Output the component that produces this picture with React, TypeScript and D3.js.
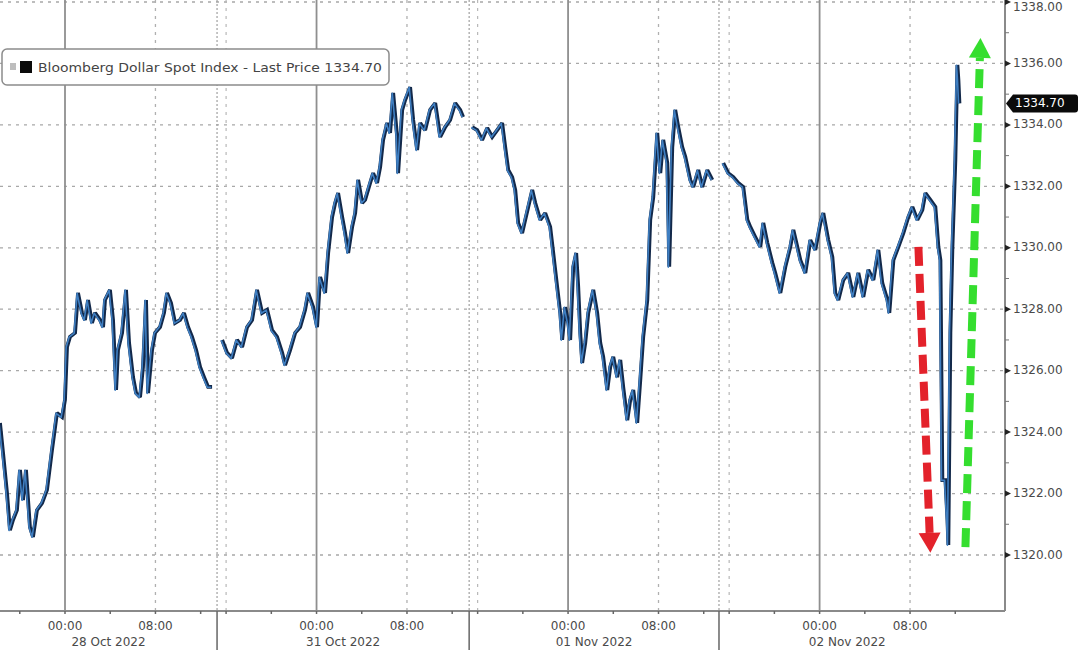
import React from 'react';
import * as d3 from 'd3';

// ---- data (compressed trading-time hours, price) ----
const session1: [number, number][] = [
  [0.0, 1324.3], [0.27, 1323.32], [0.62, 1322.02], [0.88, 1320.81], [1.15, 1321.14], [1.5, 1321.46],
  [1.77, 1322.77], [2.04, 1321.79], [2.3, 1322.77], [2.65, 1320.91], [2.92, 1320.59], [3.27, 1321.46],
  [3.72, 1321.69], [4.16, 1322.12], [4.6, 1323.42], [5.04, 1324.62], [5.49, 1324.49], [5.75, 1325.05],
  [5.93, 1326.77], [6.19, 1327.1], [6.64, 1327.23], [6.9, 1328.53], [7.26, 1327.88], [7.52, 1327.65],
  [7.79, 1328.3], [8.14, 1327.55], [8.41, 1327.88], [8.85, 1327.65], [9.12, 1327.42], [9.29, 1328.3],
  [9.73, 1328.63], [10.0, 1327.65], [10.27, 1325.37], [10.44, 1326.67], [10.8, 1327.23], [11.15, 1328.63],
  [11.42, 1326.9], [11.77, 1325.79], [12.04, 1325.27], [12.39, 1325.14], [12.65, 1326.12], [12.92, 1328.3],
  [13.1, 1325.27], [13.45, 1326.67], [13.72, 1327.23], [14.16, 1327.42], [14.51, 1327.88], [14.78, 1328.53],
  [15.13, 1328.2], [15.49, 1327.55], [15.93, 1327.65], [16.28, 1327.88], [16.64, 1327.42], [16.99, 1327.1],
  [17.35, 1326.67], [17.7, 1326.12], [18.05, 1325.79], [18.41, 1325.47], [18.76, 1325.47],
];
const session2: [number, number][] = [
  [19.65, 1327.0], [20.09, 1326.58], [20.53, 1326.41], [20.97, 1327.0], [21.42, 1326.77], [21.86, 1327.42],
  [22.3, 1327.65], [22.74, 1328.63], [23.19, 1327.88], [23.63, 1327.98], [24.07, 1327.32], [24.51, 1327.1],
  [24.96, 1326.58], [25.22, 1326.18], [25.66, 1326.67], [26.11, 1327.23], [26.55, 1327.42], [26.99, 1327.98],
  [27.26, 1328.53], [27.7, 1328.07], [28.05, 1327.42], [28.32, 1329.05], [28.76, 1328.53], [29.03, 1329.83],
  [29.38, 1331.0], [29.65, 1331.46], [29.91, 1331.78], [30.27, 1331.0], [30.53, 1330.48], [30.8, 1329.83],
  [31.15, 1330.68], [31.42, 1331.13], [31.68, 1332.21], [32.04, 1331.46], [32.3, 1331.56], [32.74, 1332.11],
  [33.01, 1332.43], [33.36, 1332.11], [33.63, 1332.63], [33.89, 1333.51], [34.25, 1334.06], [34.51, 1333.74],
  [34.78, 1335.04], [35.13, 1333.61], [35.22, 1332.43], [35.58, 1334.49], [35.84, 1334.81], [36.28, 1335.23],
  [36.55, 1334.16], [36.9, 1333.18], [37.17, 1334.06], [37.61, 1333.83], [38.05, 1334.49], [38.5, 1334.71],
  [38.94, 1333.61], [39.38, 1333.93], [39.82, 1334.16], [40.27, 1334.71], [40.71, 1334.49], [40.97, 1334.26],
];
const session3: [number, number][] = [
  [41.77, 1333.93], [42.21, 1333.83], [42.65, 1333.51], [43.1, 1333.9], [43.54, 1333.61], [43.98, 1333.83],
  [44.42, 1334.06], [44.69, 1333.28], [44.96, 1332.53], [45.31, 1332.3], [45.58, 1331.88], [45.84, 1330.81],
  [46.19, 1330.48], [46.46, 1330.91], [46.73, 1331.33], [47.08, 1331.88], [47.35, 1331.46], [47.79, 1330.91],
  [48.23, 1331.13], [48.67, 1330.68], [48.94, 1329.83], [49.29, 1328.72], [49.56, 1327.88], [49.73, 1327.0],
  [50.0, 1328.07], [50.27, 1327.55], [50.44, 1327.0], [50.71, 1329.38], [50.97, 1329.83], [51.15, 1328.72],
  [51.33, 1327.23], [51.5, 1326.25], [51.77, 1326.9], [52.04, 1327.88], [52.48, 1328.63], [52.83, 1327.88],
  [53.1, 1326.9], [53.36, 1326.45], [53.72, 1325.37], [53.98, 1326.12], [54.25, 1326.45], [54.6, 1325.79],
  [54.87, 1326.35], [55.13, 1325.47], [55.49, 1324.39], [55.75, 1325.05], [56.02, 1325.37], [56.37, 1324.3],
  [56.64, 1325.7], [56.9, 1327.1], [57.26, 1328.3], [57.52, 1330.91], [57.79, 1331.65], [58.14, 1333.74],
  [58.41, 1332.43], [58.67, 1333.51], [59.03, 1332.76], [59.2, 1329.38], [59.47, 1333.28], [59.73, 1334.49],
  [60.0, 1333.93], [60.35, 1333.28], [60.62, 1332.96], [61.06, 1332.21], [61.33, 1331.98], [61.77, 1332.53],
  [62.12, 1331.98], [62.57, 1332.53], [63.01, 1332.21],
];
const session4: [number, number][] = [
  [63.98, 1332.76], [64.42, 1332.43], [64.87, 1332.3], [65.31, 1332.11], [65.75, 1331.98], [66.11, 1330.91],
  [66.37, 1330.68], [66.81, 1330.35], [67.26, 1330.03], [67.52, 1330.81], [67.88, 1330.16], [68.32, 1329.51],
  [68.58, 1329.18], [69.03, 1328.53], [69.47, 1329.38], [69.91, 1330.03], [70.18, 1330.58], [70.53, 1330.03],
  [70.8, 1329.6], [71.24, 1329.18], [71.68, 1330.25], [72.12, 1329.93], [72.57, 1330.81], [72.83, 1331.13],
  [73.27, 1330.25], [73.63, 1329.7], [73.89, 1328.53], [74.16, 1328.3], [74.6, 1328.95], [75.04, 1329.18],
  [75.49, 1328.4], [75.93, 1329.18], [76.37, 1328.4], [76.81, 1329.28], [77.26, 1328.95], [77.7, 1329.93],
  [78.05, 1328.85], [78.5, 1328.3], [78.67, 1327.88], [79.03, 1329.6], [79.47, 1330.03], [79.91, 1330.48],
  [80.35, 1331.0], [80.71, 1331.33], [81.15, 1330.91], [81.59, 1331.23], [81.86, 1331.78], [82.3, 1331.56],
  [82.74, 1331.33], [83.01, 1330.03], [83.19, 1329.6], [83.36, 1322.44], [83.63, 1322.44], [83.81, 1321.14],
  [83.89, 1320.33], [84.07, 1327.23], [84.25, 1330.03], [84.51, 1332.86], [84.69, 1335.95], [84.78, 1335.46],
  [84.87, 1334.7],
];
const sessions = [session1, session2, session3, session4];

const sessionBounds: [number, number][] = [[0, 19.2], [19.2, 41.5], [41.5, 63.6], [63.6, 86.3]];
const midnights = [5.75, 28.0, 50.25, 72.5];
const dayLabels = ['28 Oct 2022', '31 Oct 2022', '01 Nov 2022', '02 Nov 2022'];
const hourOffsets = [0, 8];
const hourLabels = ['00:00', '08:00'];
const yTicks = [1320, 1322, 1324, 1326, 1328, 1330, 1332, 1334, 1336, 1338];
const yMinorTicks = [1321, 1323, 1325, 1327, 1329, 1331, 1333, 1335, 1337];
const lastPrice = 1334.7;
const legendText = 'Bloomberg Dollar Spot Index - Last Price 1334.70';

// annotation arrows (start, end) in data units
const redArrow: [number, number][] = [[81.24, 1330.03], [82.3, 1320.07]];
const greenArrow: [number, number][] = [[85.4, 1320.26], [86.73, 1336.83]];

const W = 1080;
const H = 650;
const FONT = 'DejaVu Sans, Verdana, sans-serif';

export default function App() {
  const x = d3.scaleLinear().domain([0, 88.9]).range([0, 1005]);
  const y = d3.scaleLinear().domain([1320, 1338]).range([555, 2]);
  const axisX = x(88.9);
  const axisY = 611;

  const line = d3.line<[number, number]>().x((d) => x(d[0])).y((d) => y(d[1]));

  const minorX: number[] = [];
  sessionBounds.forEach(([s, e], i) => {
    for (let k = -3; k <= 4; k++) {
      const h = midnights[i] + k * 4;
      if (h > s + 0.1 && h < Math.min(e, 88.9) - 0.1) minorX.push(h);
    }
  });

  const arrow = (pts: [number, number][], color: string, key: string) => {
    const [p0, p1] = pts;
    const x0 = x(p0[0]), y0 = y(p0[1]), x1 = x(p1[0]), y1 = y(p1[1]);
    const dx = x1 - x0, dy = y1 - y0;
    const len = Math.hypot(dx, dy);
    const ux = dx / len, uy = dy / len;
    const headL = 20, headW = 11;
    const bx = x1 - ux * headL, by = y1 - uy * headL;
    const px = -uy, py = ux;
    const head = `${x1},${y1} ${bx + px * headW},${by + py * headW} ${bx - px * headW},${by - py * headW}`;
    return (
      <g key={key}>
        <line x1={x0} y1={y0} x2={bx} y2={by} stroke={color} strokeWidth={8} strokeDasharray="19,8" />
        <polygon points={head} fill={color} />
      </g>
    );
  };

  return (
    <svg width={W} height={H} style={{ position: 'absolute', left: 0, top: 0, background: '#fff' }} fontFamily={FONT}>
      <rect x={0} y={0} width={W} height={H} fill="#ffffff" />
      {/* horizontal dotted grid */}
      {yTicks.map((v) => (
        <line key={`hg${v}`} x1={0} x2={axisX} y1={y(v)} y2={y(v)} stroke="#a8a8a8" strokeWidth={1.3} strokeDasharray="3,5" />
      ))}
      {/* vertical grid */}
      {midnights.map((m, i) => (
        <g key={`vg${i}`}>
          <line x1={x(m)} x2={x(m)} y1={0} y2={axisY} stroke="#8f8f8f" strokeWidth={1.8} />
          <line x1={x(m + 8)} x2={x(m + 8)} y1={0} y2={axisY} stroke="#b0b0b0" strokeWidth={1.3} strokeDasharray="3,5" />
          {i > 0 && (
            <line x1={x(m - 8)} x2={x(m - 8)} y1={0} y2={axisY} stroke="#b8b8b8" strokeWidth={1.2} strokeDasharray="3,5" />
          )}
        </g>
      ))}
      {sessionBounds.slice(1).map(([s], i) => (
        <line key={`sb${i}`} x1={x(s)} x2={x(s)} y1={0} y2={axisY} stroke="#a0a0a0" strokeWidth={1.2} strokeDasharray="2,2" />
      ))}

      {/* price line */}
      {sessions.map((s, i) => (
        <g key={`s${i}`}>
          <path d={line(s) || ''} fill="none" stroke="#13294a" strokeWidth={3.8} strokeLinejoin="miter" strokeMiterlimit={2} />
          <path d={line(s) || ''} fill="none" stroke="#3f7fc2" strokeWidth={1.6} strokeLinejoin="round" transform="translate(-0.9,0.3)" />
        </g>
      ))}

      {/* arrows */}
      {arrow(redArrow, '#e3222b', 'red')}
      {arrow(greenArrow, '#35de2f', 'green')}

      {/* axes */}
      <line x1={axisX} x2={axisX} y1={0} y2={axisY} stroke="#8a8a8a" strokeWidth={2} />
      <line x1={0} x2={axisX} y1={axisY} y2={axisY} stroke="#8a8a8a" strokeWidth={2} />
      {yTicks.map((v) => (
        <g key={`yt${v}`}>
          <path d={`M${axisX},${y(v) - 3} L${axisX + 6},${y(v)} L${axisX},${y(v) + 3} Z`} fill="#222" />
          <text x={axisX + 8} y={Math.max(y(v), 7)} dominantBaseline="middle" fontSize={12} fill="#4a4a4a">
            {v.toFixed(2)}
          </text>
        </g>
      ))}
      {yMinorTicks.map((v) => (
        <line key={`ym${v}`} x1={axisX} x2={axisX + 4} y1={y(v)} y2={y(v)} stroke="#777" strokeWidth={1} />
      ))}
      {minorX.map((h, i) => (
        <line key={`xm${i}`} x1={x(h)} x2={x(h)} y1={axisY} y2={axisY + 3} stroke="#666" strokeWidth={1.5} />
      ))}
      {sessionBounds.slice(1).map(([s], i) => (
        <line key={`sbb${i}`} x1={x(s)} x2={x(s)} y1={axisY} y2={H} stroke="#666" strokeWidth={1.5} />
      ))}
      {midnights.map((m, i) => (
        <g key={`xl${i}`}>
          {hourOffsets.map((o, j) => (
            <text key={j} x={x(m + o)} y={630} textAnchor="middle" fontSize={12} fill="#4a4a4a">
              {hourLabels[j]}
            </text>
          ))}
          <text x={x((sessionBounds[i][0] + sessionBounds[i][1]) / 2)} y={646} textAnchor="middle" fontSize={12} fill="#4a4a4a">
            {dayLabels[i]}
          </text>
        </g>
      ))}

      {/* last price tag */}
      <path
        d={`M${axisX + 1},${y(lastPrice)} L${axisX + 8},${y(lastPrice) - 9} H${axisX + 70} Q${axisX + 73},${y(lastPrice) - 9} ${axisX + 73},${y(lastPrice) - 6} V${y(lastPrice) + 6} Q${axisX + 73},${y(lastPrice) + 9} ${axisX + 70},${y(lastPrice) + 9} H${axisX + 8} Z`}
        fill="#0a0a0a"
      />
      <text x={axisX + 10} y={y(lastPrice)} dominantBaseline="middle" fontSize={12} fill="#ffffff">
        {lastPrice.toFixed(2)}
      </text>

      {/* legend */}
      <rect x={2} y={49} width={387} height={36} rx={5} fill="#ffffff" stroke="#8c8c8c" strokeWidth={1.5} />
      <rect x={10} y={63} width={6} height={7} fill="#bdbdbd" />
      <rect x={20} y={61} width={12} height={12} fill="#0b0b0b" />
      <text x={38} y={72} fontSize={12.5} fill="#444" textLength={344} lengthAdjust="spacingAndGlyphs">
        {legendText}
      </text>
    </svg>
  );
}
